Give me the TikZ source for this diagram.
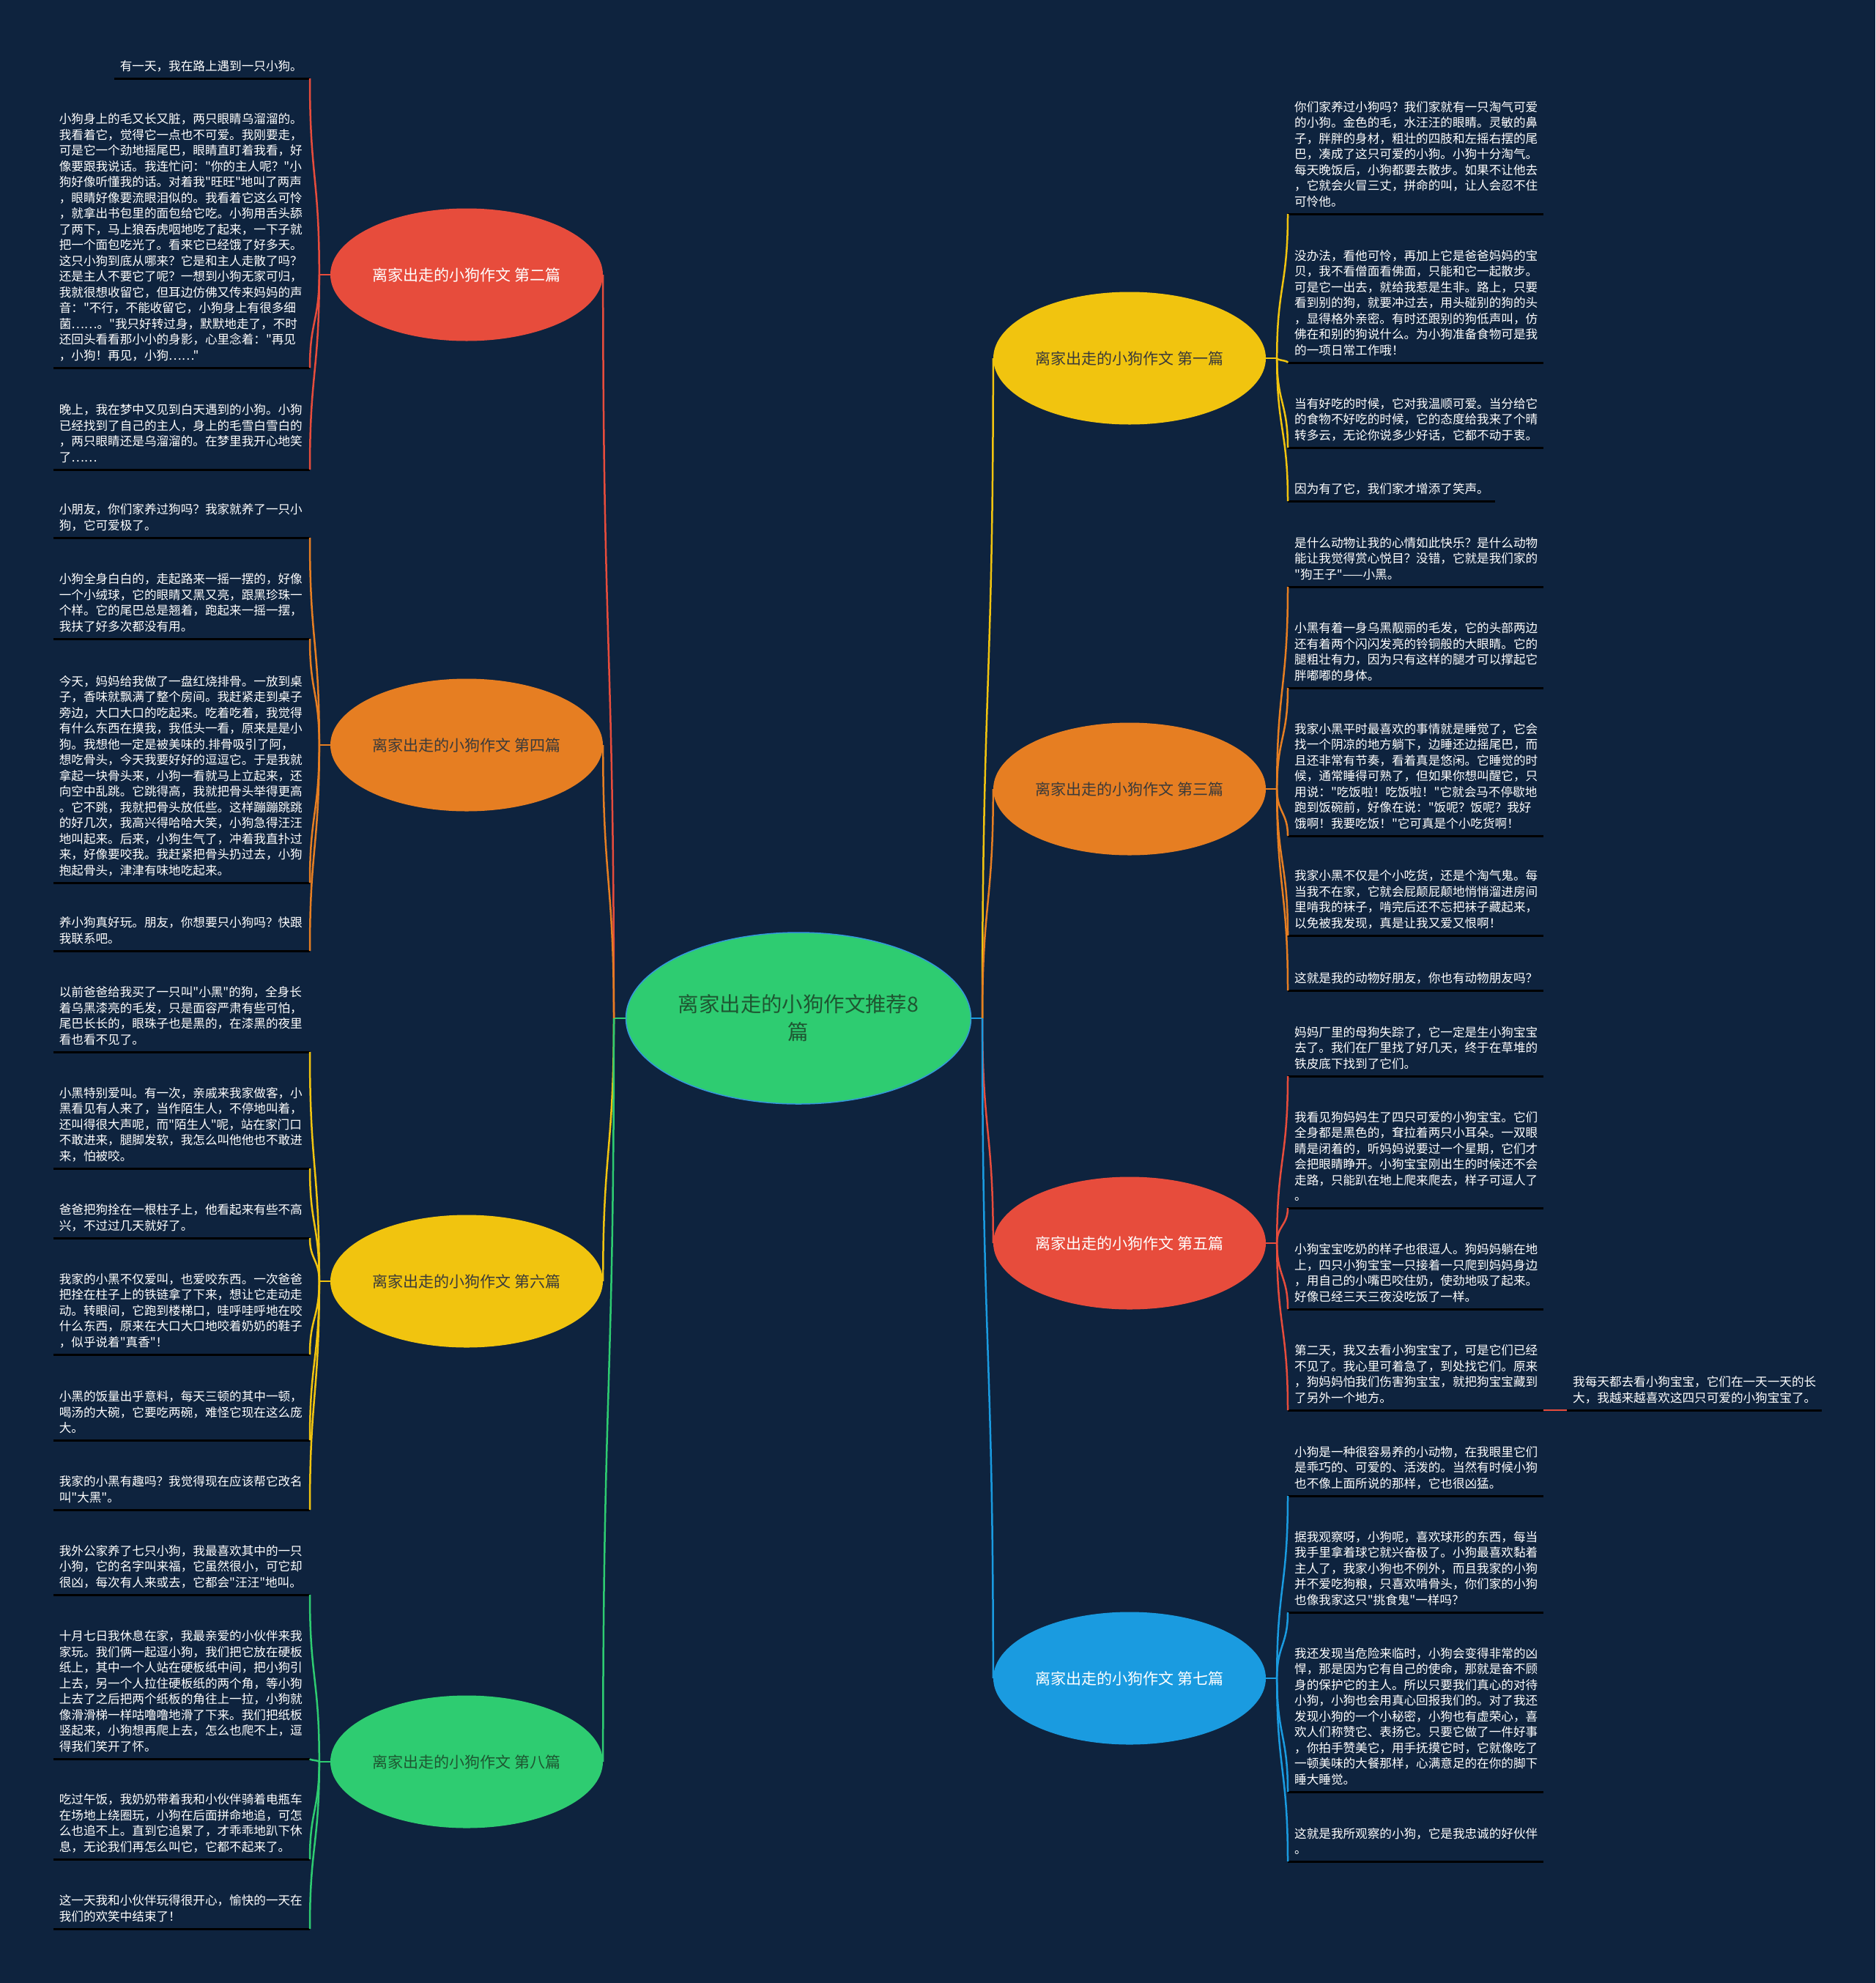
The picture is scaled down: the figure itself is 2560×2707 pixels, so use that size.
\documentclass[tikz,border=0pt]{standalone}
\usepackage{fontspec}
\newfontfamily\cjk{Noto Sans CJK SC}
\usetikzlibrary{shapes.geometric,calc}
\definecolor{bg}{RGB}{14,35,62}
\definecolor{cred}{HTML}{E74C3C}
\definecolor{corange}{HTML}{E67E22}
\definecolor{cyellow}{HTML}{F1C40F}
\definecolor{cgreen}{HTML}{2ECC71}
\definecolor{cblue}{HTML}{1A9BE0}
\definecolor{cline}{HTML}{3498DB}
\definecolor{ctxt}{HTML}{1E5631}
\definecolor{cdark}{HTML}{3A3A3A}
\newcommand\LB[3]{%
  \coordinate (#1e) at (423,#2);
  \node[lt,anchor=south east] (#1) at (413,#2-9) {#3};
  \draw[ul] ($(#1.west |- #1e)+(-8,0)$) -- (#1e);}
\newcommand\RB[3]{%
  \coordinate (#1e) at (1758,#2);
  \node[lt,anchor=south west] (#1) at (1767,#2-9) {#3};
  \coordinate (#1r) at ($(#1.east |- #1e)+(8,0)$);
  \draw[ul] (#1e) -- (#1r);}
\newcommand\sconn[3]{%
  \path ($(#2)!0.5!(#3)$) coordinate (tmpm);
  \draw[cn,#1] (#2) .. controls (#2 |- tmpm) and (#3 |- tmpm) .. (#3);}
\begin{document}
\begin{tikzpicture}[x=1pt,y=-1pt,
  lt/.style={font=\cjk\fontsize{16.6}{21.5}\selectfont, text=white, align=left, inner sep=0pt},
  ul/.style={draw=black, line width=3pt},
  br/.style={ellipse, minimum width=372pt, minimum height=181pt, inner sep=0pt, font=\cjk\fontsize{21}{26}\selectfont},
  cn/.style={line width=2.5pt},
]
\fill[bg] (0,0) rectangle (2560,2707);
\useasboundingbox (0,0) rectangle (2560,2707);

% ---------- ellipses ----------
\node[ellipse, fill=cgreen, draw=cline, line width=1.5pt, minimum width=471pt, minimum height=234pt, inner sep=0pt, align=center, text=ctxt, font=\cjk\fontsize{28.4}{38}\selectfont] (C) at (1090,1390) {离家出走的小狗作文推荐8\\篇};
\node[br, fill=cred, text=white] (E2) at (637,375) {离家出走的小狗作文 第二篇};
\node[br, fill=corange, text=cdark] (E4) at (637,1017) {离家出走的小狗作文 第四篇};
\node[br, fill=cyellow, text=cdark] (E6) at (637,1749) {离家出走的小狗作文 第六篇};
\node[br, fill=cgreen, text=ctxt] (E8) at (637,2405) {离家出走的小狗作文 第八篇};
\node[br, fill=cyellow, text=cdark] (E1) at (1542,489) {离家出走的小狗作文 第一篇};
\node[br, fill=corange, text=cdark] (E3) at (1542,1077) {离家出走的小狗作文 第三篇};
\node[br, fill=cred, text=white] (E5) at (1542,1697) {离家出走的小狗作文 第五篇};
\node[br, fill=cblue, text=white] (E7) at (1542,2291) {离家出走的小狗作文 第七篇};

% ---------- left text blocks ----------
\LB{L1}{107}{有一天，我在路上遇到一只小狗。}
\LB{L2}{502}{小狗身上的毛又长又脏，两只眼睛乌溜溜的。\\我看着它，觉得它一点也不可爱。我刚要走，\\可是它一个劲地摇尾巴，眼睛直盯着我看，好\\像要跟我说话。我连忙问："你的主人呢？"小\\狗好像听懂我的话。对着我"旺旺"地叫了两声\\，眼睛好像要流眼泪似的。我看着它这么可怜\\，就拿出书包里的面包给它吃。小狗用舌头舔\\了两下，马上狼吞虎咽地吃了起来，一下子就\\把一个面包吃光了。看来它已经饿了好多天。\\这只小狗到底从哪来？它是和主人走散了吗？\\还是主人不要它了呢？一想到小狗无家可归，\\我就很想收留它，但耳边仿佛又传来妈妈的声\\音："不行，不能收留它，小狗身上有很多细\\菌……。"我只好转过身，默默地走了，不时\\还回头看看那小小的身影，心里念着："再见\\，小狗！再见，小狗……"}
\LB{L3}{641}{晚上，我在梦中又见到白天遇到的小狗。小狗\\已经找到了自己的主人，身上的毛雪白雪白的\\，两只眼睛还是乌溜溜的。在梦里我开心地笑\\了……}
\LB{L4}{734}{小朋友，你们家养过狗吗？我家就养了一只小\\狗，它可爱极了。}
\LB{L5}{872}{小狗全身白白的，走起路来一摇一摆的，好像\\一个小绒球，它的眼睛又黑又亮，跟黑珍珠一\\个样。它的尾巴总是翘着，跑起来一摇一摆，\\我扶了好多次都没有用。}
\LB{L6}{1205}{今天，妈妈给我做了一盘红烧排骨。一放到桌\\子，香味就飘满了整个房间。我赶紧走到桌子\\旁边，大口大口的吃起来。吃着吃着，我觉得\\有什么东西在摸我，我低头一看，原来是是小\\狗。我想他一定是被美味的.排骨吸引了阿，\\想吃骨头，今天我要好好的逗逗它。于是我就\\拿起一块骨头来，小狗一看就马上立起来，还\\向空中乱跳。它跳得高，我就把骨头举得更高\\。它不跳，我就把骨头放低些。这样蹦蹦跳跳\\的好几次，我高兴得哈哈大笑，小狗急得汪汪\\地叫起来。后来，小狗生气了，冲着我直扑过\\来，好像要咬我。我赶紧把骨头扔过去，小狗\\抱起骨头，津津有味地吃起来。}
\LB{L7}{1298}{养小狗真好玩。朋友，你想要只小狗吗？快跟\\我联系吧。}
\LB{L8}{1436}{以前爸爸给我买了一只叫"小黑"的狗，全身长\\着乌黑漆亮的毛发，只是面容严肃有些可怕，\\尾巴长长的，眼珠子也是黑的，在漆黑的夜里\\看也看不见了。}
\LB{L9}{1595}{小黑特别爱叫。有一次，亲戚来我家做客，小\\黑看见有人来了，当作陌生人，不停地叫着，\\还叫得很大声呢，而"陌生人"呢，站在家门口\\不敢进来，腿脚发软，我怎么叫他他也不敢进\\来，怕被咬。}
\LB{L10}{1690}{爸爸把狗拴在一根柱子上，他看起来有些不高\\兴，不过过几天就好了。}
\LB{L11}{1849}{我家的小黑不仅爱叫，也爱咬东西。一次爸爸\\把拴在柱子上的铁链拿了下来，想让它走动走\\动。转眼间，它跑到楼梯口，哇呼哇呼地在咬\\什么东西，原来在大口大口地咬着奶奶的鞋子\\，似乎说着"真香"！}
\LB{L12}{1966}{小黑的饭量出乎意料，每天三顿的其中一顿，\\喝汤的大碗，它要吃两碗，难怪它现在这么庞\\大。}
\LB{L13}{2061}{我家的小黑有趣吗？我觉得现在应该帮它改名\\叫"大黑"。}
\LB{L14}{2177}{我外公家养了七只小狗，我最喜欢其中的一只\\小狗，它的名字叫来福，它虽然很小，可它却\\很凶，每次有人来或去，它都会"汪汪"地叫。}
\LB{L15}{2401}{十月七日我休息在家，我最亲爱的小伙伴来我\\家玩。我们俩一起逗小狗，我们把它放在硬板\\纸上，其中一个人站在硬板纸中间，把小狗引\\上去，另一个人拉住硬板纸的两个角，等小狗\\上去了之后把两个纸板的角往上一拉，小狗就\\像滑滑梯一样咕噜噜地滑了下来。我们把纸板\\竖起来，小狗想再爬上去，怎么也爬不上，逗\\得我们笑开了怀。}
\LB{L16}{2538}{吃过午饭，我奶奶带着我和小伙伴骑着电瓶车\\在场地上绕圈玩，小狗在后面拼命地追，可怎\\么也追不上。直到它追累了，才乖乖地趴下休\\息，无论我们再怎么叫它，它都不起来了。}
\LB{L17}{2633}{这一天我和小伙伴玩得很开心，愉快的一天在\\我们的欢笑中结束了！}

% ---------- right text blocks ----------
\RB{R1}{292}{你们家养过小狗吗？我们家就有一只淘气可爱\\的小狗。金色的毛，水汪汪的眼睛。灵敏的鼻\\子，胖胖的身材，粗壮的四肢和左摇右摆的尾\\巴，凑成了这只可爱的小狗。小狗十分淘气。\\每天晚饭后，小狗都要去散步。如果不让他去\\，它就会火冒三丈，拼命的叫，让人会忍不住\\可怜他。}
\RB{R2}{495}{没办法，看他可怜，再加上它是爸爸妈妈的宝\\贝，我不看僧面看佛面，只能和它一起散步。\\可是它一出去，就给我惹是生非。路上，只要\\看到别的狗，就要冲过去，用头碰别的狗的头\\，显得格外亲密。有时还跟别的狗低声叫，仿\\佛在和别的狗说什么。为小狗准备食物可是我\\的一项日常工作哦！}
\RB{R3}{611}{当有好吃的时候，它对我温顺可爱。当分给它\\的食物不好吃的时候，它的态度给我来了个晴\\转多云，无论你说多少好话，它都不动于衷。}
\RB{R4}{684}{因为有了它，我们家才增添了笑声。}
\RB{R5}{801}{是什么动物让我的心情如此快乐？是什么动物\\能让我觉得赏心悦目？没错，它就是我们家的\\"狗王子"——小黑。}
\RB{R6}{939}{小黑有着一身乌黑靓丽的毛发，它的头部两边\\还有着两个闪闪发亮的铃铜般的大眼睛。它的\\腿粗壮有力，因为只有这样的腿才可以撑起它\\胖嘟嘟的身体。}
\RB{R7}{1141}{我家小黑平时最喜欢的事情就是睡觉了，它会\\找一个阴凉的地方躺下，边睡还边摇尾巴，而\\且还非常有节奏，看着真是悠闲。它睡觉的时\\候，通常睡得可熟了，但如果你想叫醒它，只\\用说："吃饭啦！吃饭啦！"它就会马不停歇地\\跑到饭碗前，好像在说："饭呢？饭呢？我好\\饿啊！我要吃饭！"它可真是个小吃货啊！}
\RB{R8}{1277}{我家小黑不仅是个小吃货，还是个淘气鬼。每\\当我不在家，它就会屁颠屁颠地悄悄溜进房间\\里啃我的袜子，啃完后还不忘把袜子藏起来，\\以免被我发现，真是让我又爱又恨啊！}
\RB{R9}{1352}{这就是我的动物好朋友，你也有动物朋友吗？}
\RB{R10}{1469}{妈妈厂里的母狗失踪了，它一定是生小狗宝宝\\去了。我们在厂里找了好几天，终于在草堆的\\铁皮底下找到了它们。}
\RB{R11}{1649}{我看见狗妈妈生了四只可爱的小狗宝宝。它们\\全身都是黑色的，耷拉着两只小耳朵。一双眼\\睛是闭着的，听妈妈说要过一个星期，它们才\\会把眼睛睁开。小狗宝宝刚出生的时候还不会\\走路，只能趴在地上爬来爬去，样子可逗人了\\。}
\RB{R12}{1787}{小狗宝宝吃奶的样子也很逗人。狗妈妈躺在地\\上，四只小狗宝宝一只接着一只爬到妈妈身边\\，用自己的小嘴巴咬住奶，使劲地吸了起来。\\好像已经三天三夜没吃饭了一样。}
\RB{R13}{1925}{第二天，我又去看小狗宝宝了，可是它们已经\\不见了。我心里可着急了，到处找它们。原来\\，狗妈妈怕我们伤害狗宝宝，就把狗宝宝藏到\\了另外一个地方。}
\RB{R14}{2042}{小狗是一种很容易养的小动物，在我眼里它们\\是乖巧的、可爱的、活泼的。当然有时候小狗\\也不像上面所说的那样，它也很凶猛。}
\RB{R15}{2201}{据我观察呀，小狗呢，喜欢球形的东西，每当\\我手里拿着球它就兴奋极了。小狗最喜欢黏着\\主人了，我家小狗也不例外，而且我家的小狗\\并不爱吃狗粮，只喜欢啃骨头，你们家的小狗\\也像我家这只"挑食鬼"一样吗？}
\RB{R16}{2446}{我还发现当危险来临时，小狗会变得非常的凶\\悍，那是因为它有自己的使命，那就是奋不顾\\身的保护它的主人。所以只要我们真心的对待\\小狗，小狗也会用真心回报我们的。对了我还\\发现小狗的一个小秘密，小狗也有虚荣心，喜\\欢人们称赞它、表扬它。只要它做了一件好事\\，你拍手赞美它，用手抚摸它时，它就像吃了\\一顿美味的大餐那样，心满意足的在你的脚下\\睡大睡觉。}
\RB{R17}{2541}{这就是我所观察的小狗，它是我忠诚的好伙伴\\。}

% far-right child of R13
\coordinate (R13bs) at (2139,1925);
\node[lt,anchor=south west] (R13b) at (2147,1916) {我每天都去看小狗宝宝，它们在一天一天的长\\大，我越来越喜欢这四只可爱的小狗宝宝了。};
\draw[ul] (R13bs) -- ($(R13b.east |- R13bs)+(8,0)$);
\draw[cn,cred] (R13r) -- (R13bs);

% ---------- junctions ----------
\coordinate (JCL) at (838,1390);
\coordinate (JCR) at (1341,1390);
\foreach \e in {E2,E4,E6,E8} {\coordinate (J\e) at ($(\e.west)+(-15,0)$);}
\foreach \e in {E1,E3,E5,E7} {\coordinate (J\e) at ($(\e.east)+(15,0)$);}

% center to branches
\draw[cn,cgreen] (C.west) -- (JCL);
\draw[cn,cblue] (C.east) -- (JCR);
\sconn{cred}{JCL}{E2.east}
\sconn{corange}{JCL}{E4.east}
\sconn{cyellow}{JCL}{E6.east}
\sconn{cgreen}{JCL}{E8.east}
\sconn{cyellow}{JCR}{E1.west}
\sconn{corange}{JCR}{E3.west}
\sconn{cred}{JCR}{E5.west}
\sconn{cblue}{JCR}{E7.west}

% branches to texts
\draw[cn,cred] (E2.west) -- (JE2);
\foreach \t in {L1,L2,L3} {\sconn{cred}{JE2}{\t e}}
\draw[cn,corange] (E4.west) -- (JE4);
\foreach \t in {L4,L5,L6,L7} {\sconn{corange}{JE4}{\t e}}
\draw[cn,cyellow] (E6.west) -- (JE6);
\foreach \t in {L8,L9,L10,L11,L12,L13} {\sconn{cyellow}{JE6}{\t e}}
\draw[cn,cgreen] (E8.west) -- (JE8);
\foreach \t in {L14,L15,L16,L17} {\sconn{cgreen}{JE8}{\t e}}

\draw[cn,cyellow] (E1.east) -- (JE1);
\foreach \t in {R1,R2,R3,R4} {\sconn{cyellow}{JE1}{\t e}}
\draw[cn,corange] (E3.east) -- (JE3);
\foreach \t in {R5,R6,R7,R8,R9} {\sconn{corange}{JE3}{\t e}}
\draw[cn,cred] (E5.east) -- (JE5);
\foreach \t in {R10,R11,R12,R13} {\sconn{cred}{JE5}{\t e}}
\draw[cn,cblue] (E7.east) -- (JE7);
\foreach \t in {R14,R15,R16,R17} {\sconn{cblue}{JE7}{\t e}}
\end{tikzpicture}
\end{document}
